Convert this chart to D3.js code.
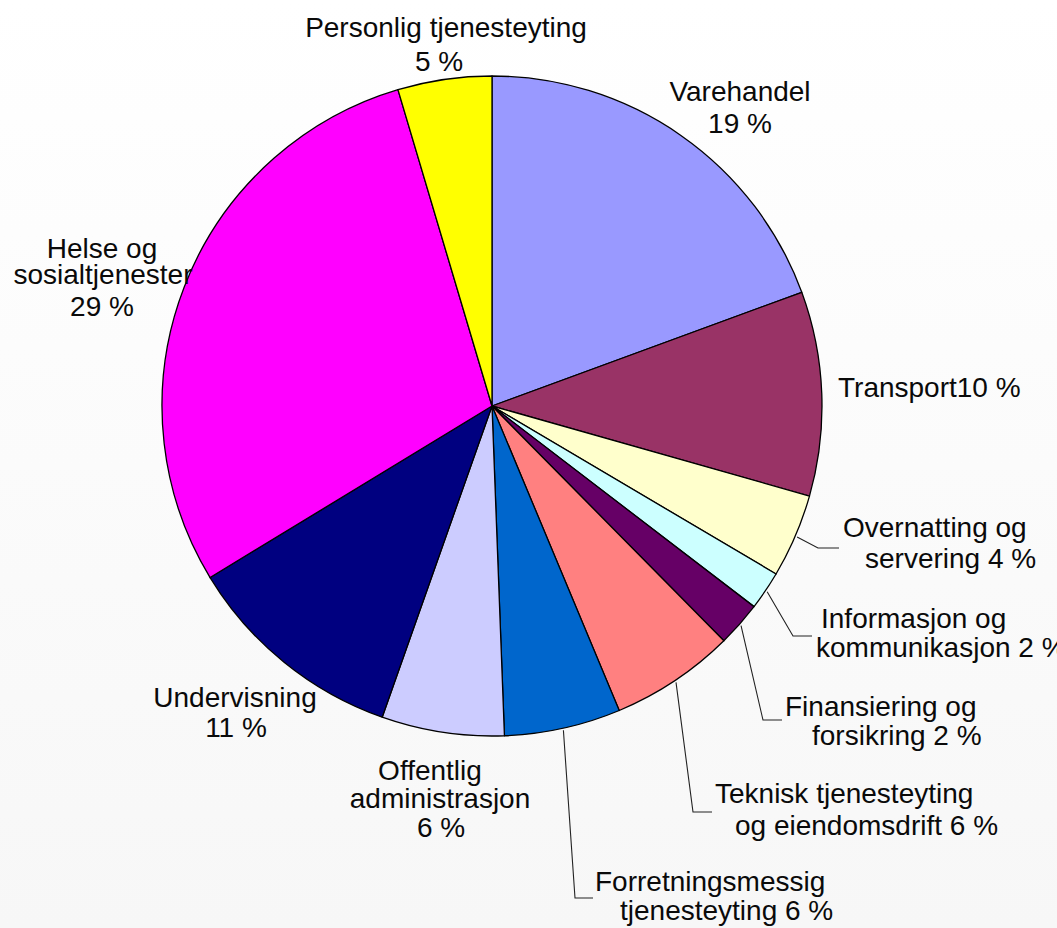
<!DOCTYPE html>
<html>
<head>
<meta charset="utf-8">
<script src="https://cdn.jsdelivr.net/npm/d3@7"></script>
<style>
  html, body { margin: 0; padding: 0; }
  body { width: 1057px; height: 928px; overflow: hidden; }
  text { font-family: "Liberation Sans", Arial, sans-serif; font-size: 28px; fill: #0a0a0a; }
</style>
</head>
<body>
<div id="chart"></div>
<script>
// data (shares in %, clockwise from 12 o'clock)
const categories = [
  "Varehandel", "Transport", "Overnatting og servering", "Informasjon og kommunikasjon",
  "Finansiering og forsikring", "Teknisk tjenesteyting og eiendomsdrift",
  "Forretningsmessig tjenesteyting", "Offentlig administrasjon", "Undervisning",
  "Helse og sosialtjenester", "Personlig tjenesteyting"
];
const values = [19.4, 10.0, 4.1, 1.9, 2.2, 6.1, 5.7, 6.0, 10.9, 29.1, 4.6];
const pctLabels = ["19 %", "10 %", "4 %", "2 %", "2 %", "6 %", "6 %", "6 %", "11 %", "29 %", "5 %"];
const colors = ["#9999FF", "#993366", "#FFFFCC", "#CCFFFF", "#660066", "#FF8080",
                "#0066CC", "#CCCCFF", "#000080", "#FF00FF", "#FFFF00"];

// label text lines for each slice
const labelLines = [
  ["Varehandel", "19 %"],
  ["Transport10 %"],
  ["Overnatting og", "servering 4 %"],
  ["Informasjon og", "kommunikasjon 2 %"],
  ["Finansiering og", "forsikring 2 %"],
  ["Teknisk tjenesteyting", "og eiendomsdrift 6 %"],
  ["Forretningsmessig", "tjenesteyting 6 %"],
  ["Offentlig", "administrasjon", "6 %"],
  ["Undervisning", "11 %"],
  ["Helse og", "sosialtjenester", "29 %"],
  ["Personlig tjenesteyting", "5 %"]
];

// layout: where each label line sits [x, baseline y], and anchor
const labelLayout = [
  { anchor: "middle", pos: [[740, 101], [740, 133]] },
  { anchor: "start",  pos: [[838, 397]] },
  { anchor: "start",  pos: [[843, 537], [865, 568]] },
  { anchor: "start",  pos: [[821, 628], [816, 657]] },
  { anchor: "start",  pos: [[785, 716], [812, 745]] },
  { anchor: "start",  pos: [[715, 803], [735, 835]] },
  { anchor: "start",  pos: [[595, 891], [620, 920]] },
  { anchor: "middle", pos: [[430, 780], [440, 808], [441, 837]] },
  { anchor: "middle", pos: [[235, 707], [236, 737]] },
  { anchor: "middle", pos: [[102, 258], [103, 284], [102, 316]] },
  { anchor: "middle", pos: [[446, 37], [439, 71]] }
];

// leader lines: elbow + end point for the small slices (null = no leader)
const leaders = [null, null,
  [[818, 548], [839, 548]],
  [[793, 636], [812, 636]],
  [[763, 720], [782, 720]],
  [[693, 812], [712, 812]],
  [[575, 898], [593, 898]],
  null, null, null, null];

const width = 1057, height = 928;
const cx = 492, cy = 406, radius = 330;

const svg = d3.select("#chart").append("svg")
    .attr("width", width)
    .attr("height", height);

// faint background gradient
const grad = svg.append("defs").append("linearGradient")
    .attr("id", "bg").attr("x1", 0).attr("y1", 0).attr("x2", 0).attr("y2", 1);
grad.append("stop").attr("offset", "0%").attr("stop-color", "#ffffff");
grad.append("stop").attr("offset", "100%").attr("stop-color", "#f7f7f7");
svg.append("rect").attr("width", width).attr("height", height).attr("fill", "url(#bg)");

const pie = d3.pie().sort(null).value(d => d)(values);
const arc = d3.arc().innerRadius(0).outerRadius(radius);

const g = svg.append("g").attr("transform", `translate(${cx}, ${cy})`);

g.selectAll("path.slice")
    .data(pie).enter()
    .append("path")
    .attr("class", "slice")
    .attr("d", arc)
    .attr("fill", (d, i) => colors[i])
    .attr("stroke", "#000")
    .attr("stroke-width", 1.3)
    .attr("stroke-linejoin", "round");

// leader lines start on the rim at the slice's middle angle
pie.forEach((d, i) => {
    if (!leaders[i]) return;
    const a = (d.startAngle + d.endAngle) / 2;
    const start = [cx + Math.sin(a) * (radius + 2), cy - Math.cos(a) * (radius + 2)];
    svg.append("path")
        .attr("d", d3.line()([start, ...leaders[i]]))
        .attr("fill", "none")
        .attr("stroke", "#222")
        .attr("stroke-width", 1.1);
});

// labels
labelLines.forEach((lines, i) => {
    const lay = labelLayout[i];
    lines.forEach((t, j) => {
        svg.append("text")
            .attr("x", lay.pos[j][0])
            .attr("y", lay.pos[j][1])
            .attr("text-anchor", lay.anchor)
            .text(t);
    });
});
</script>
</body>
</html>
